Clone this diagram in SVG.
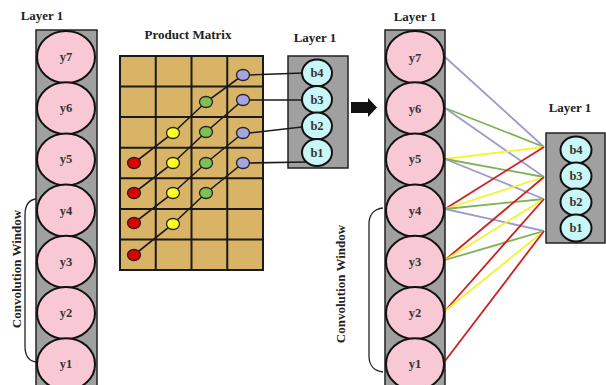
<svg xmlns="http://www.w3.org/2000/svg" width="606" height="385" viewBox="0 0 606 385">
  <style>
    .title { font-family: "Liberation Serif", "Times New Roman", serif; font-weight: bold; font-size: 13px; fill: #222; text-anchor: middle; }
    .lbl { font-family: "Liberation Serif", "Times New Roman", serif; font-weight: bold; font-size: 12.5px; fill: #333; text-anchor: middle; dominant-baseline: central; }
    .col { fill: #a0a0a0; stroke: #222; stroke-width: 1.5; }
    .ynode { fill: #f8c9d5; stroke: #111; stroke-width: 2; }
    .bnode { fill: #c9f7f7; stroke: #111; stroke-width: 2; }
    .cell { fill: #dab466; stroke: #1a1a1a; stroke-width: 2; }
    .gl { stroke: #1a1a1a; stroke-width: 2; fill: none; }
    .diag { stroke: #1a1a1a; stroke-width: 1.6; fill: none; }
    .dot { stroke: #222; stroke-width: 1.3; }
    .red { fill: #e00000; } .yel { fill: #ffff22; } .grn { fill: #7fc052; } .blu { fill: #a5a5e0; }
    .brace { fill: none; stroke: #222; stroke-width: 1.3; }
    .c { fill: none; stroke-width: 1.8; }
    .cb { stroke: #9c9ccc; } .cg { stroke: #7fb255; } .cy { stroke: #f4f430; } .cr { stroke: #cc1f1f; }
  </style>

  <!-- left column -->
  <g id="left-layer">
    <text class="title" x="42" y="20">Layer 1</text>
    <rect class="col" x="36" y="30" width="61" height="360"/>
  </g>
  <g id="left-y7"><ellipse class="ynode" cx="66" cy="57" rx="29" ry="26"/><text class="lbl" x="66" y="57">y7</text></g>
  <g id="left-y6"><ellipse class="ynode" cx="66" cy="108.2" rx="29" ry="26"/><text class="lbl" x="66" y="108.2">y6</text></g>
  <g id="left-y5"><ellipse class="ynode" cx="66" cy="159.4" rx="29" ry="26"/><text class="lbl" x="66" y="159.4">y5</text></g>
  <g id="left-y4"><ellipse class="ynode" cx="66" cy="210.6" rx="29" ry="26"/><text class="lbl" x="66" y="210.6">y4</text></g>
  <g id="left-y3"><ellipse class="ynode" cx="66" cy="261.8" rx="29" ry="26"/><text class="lbl" x="66" y="261.8">y3</text></g>
  <g id="left-y2"><ellipse class="ynode" cx="66" cy="313" rx="29" ry="26"/><text class="lbl" x="66" y="313">y2</text></g>
  <g id="left-y1"><ellipse class="ynode" cx="66" cy="364.2" rx="29" ry="26"/><text class="lbl" x="66" y="364.2">y1</text></g>
  <g id="left-window">
    <path class="brace" d="M36,199 C28,200 25,206 25,215 L25,346 C25,355 28,361 36,362"/>
    <text class="title" font-size="11.5" transform="translate(21,269) rotate(-90)">Convolution Window</text>
  </g>

  <!-- product matrix -->
  <g id="product-matrix">
    <text class="title" x="188" y="39">Product Matrix</text>
    <rect class="cell" x="120" y="56" width="143" height="214"/>
    <path class="gl" d="M155.75,56V270M191.5,56V270M227.25,56V270M120,86.6H263M120,117.1H263M120,147.7H263M120,178.3H263M120,208.9H263M120,239.4H263"/>
    <polyline class="diag" points="134,163 173,133 206,102 243,75"/>
    <polyline class="diag" points="134,193 173,163 206,132 243,100"/>
    <polyline class="diag" points="134,223 173,193 206,163 243,133"/>
    <polyline class="diag" points="134,255 173,224 206,193 243,163"/>
    <g class="dot">
      <ellipse class="red" cx="134" cy="163" rx="6.5" ry="5.5"/>
      <ellipse class="red" cx="134" cy="193" rx="6.5" ry="5.5"/>
      <ellipse class="red" cx="134" cy="223" rx="6.5" ry="5.5"/>
      <ellipse class="red" cx="134" cy="255" rx="6.5" ry="5.5"/>
      <ellipse class="yel" cx="173" cy="133" rx="6.5" ry="5.5"/>
      <ellipse class="yel" cx="173" cy="163" rx="6.5" ry="5.5"/>
      <ellipse class="yel" cx="173" cy="193" rx="6.5" ry="5.5"/>
      <ellipse class="yel" cx="173" cy="224" rx="6.5" ry="5.5"/>
      <ellipse class="grn" cx="206" cy="102" rx="6.5" ry="5.5"/>
      <ellipse class="grn" cx="206" cy="132" rx="6.5" ry="5.5"/>
      <ellipse class="grn" cx="206" cy="163" rx="6.5" ry="5.5"/>
      <ellipse class="grn" cx="206" cy="193" rx="6.5" ry="5.5"/>
      <ellipse class="blu" cx="243" cy="75" rx="6.5" ry="5.5"/>
      <ellipse class="blu" cx="243" cy="100" rx="6.5" ry="5.5"/>
      <ellipse class="blu" cx="243" cy="133" rx="6.5" ry="5.5"/>
      <ellipse class="blu" cx="243" cy="163" rx="6.5" ry="5.5"/>
    </g>
  </g>

  <!-- middle bias layer -->
  <g id="mid-layer">
    <text class="title" x="315" y="42">Layer 1</text>
    <rect class="col" x="288" y="56" width="60" height="112"/>
  </g>

  <!-- connectors -->
  <g id="connectors">
    <g class="diag">
      <line x1="249" y1="75" x2="303" y2="73"/>
      <line x1="249" y1="100" x2="302" y2="100"/>
      <line x1="249" y1="133" x2="302" y2="127"/>
      <line x1="249" y1="163" x2="307" y2="162"/>
    </g>
    <g class="c">
      <line class="cb" x1="445" y1="57" x2="544" y2="147"/>
      <line class="cg" x1="445" y1="108" x2="544" y2="147"/>
      <line class="cb" x1="445" y1="108" x2="544" y2="177"/>
      <line class="cy" x1="445" y1="159" x2="544" y2="147"/>
      <line class="cg" x1="445" y1="159" x2="544" y2="177"/>
      <line class="cb" x1="445" y1="159" x2="544" y2="199"/>
      <line class="cr" x1="445" y1="209" x2="544" y2="147"/>
      <line class="cy" x1="445" y1="209" x2="544" y2="177"/>
      <line class="cg" x1="445" y1="209" x2="544" y2="199"/>
      <line class="cb" x1="445" y1="209" x2="544" y2="231"/>
      <line class="cr" x1="445" y1="260" x2="544" y2="177"/>
      <line class="cy" x1="445" y1="260" x2="544" y2="199"/>
      <line class="cg" x1="445" y1="260" x2="544" y2="231"/>
      <line class="cr" x1="445" y1="311" x2="544" y2="199"/>
      <line class="cy" x1="445" y1="311" x2="544" y2="231"/>
      <line class="cr" x1="445" y1="361" x2="544" y2="231"/>
    </g>
  </g>

  <g id="mid-b4"><ellipse class="bnode" cx="317" cy="73" rx="15" ry="13.5"/><text class="lbl" x="317" y="73">b4</text></g>
  <g id="mid-b3"><ellipse class="bnode" cx="317" cy="99.5" rx="15" ry="13.5"/><text class="lbl" x="317" y="99.5">b3</text></g>
  <g id="mid-b2"><ellipse class="bnode" cx="317" cy="126" rx="15" ry="13.5"/><text class="lbl" x="317" y="126">b2</text></g>
  <g id="mid-b1"><ellipse class="bnode" cx="317" cy="152.5" rx="15" ry="13.5"/><text class="lbl" x="317" y="152.5">b1</text></g>

  <!-- transition arrow -->
  <g id="arrow">
    <polygon fill="#111" points="351,102 368,102 368,98 377,107.5 368,117 368,113 351,113"/>
  </g>

  <!-- right column -->
  <g id="right-layer">
    <text class="title" x="415" y="21">Layer 1</text>
    <rect class="col" x="385" y="30" width="60" height="360"/>
  </g>
  <g id="right-y7"><ellipse class="ynode" cx="415" cy="57" rx="29" ry="26"/><text class="lbl" x="415" y="58">y7</text></g>
  <g id="right-y6"><ellipse class="ynode" cx="415" cy="108.2" rx="29" ry="26"/><text class="lbl" x="415" y="109">y6</text></g>
  <g id="right-y5"><ellipse class="ynode" cx="415" cy="159.4" rx="29" ry="26"/><text class="lbl" x="415" y="159.4">y5</text></g>
  <g id="right-y4"><ellipse class="ynode" cx="415" cy="210.6" rx="29" ry="26"/><text class="lbl" x="415" y="210.6">y4</text></g>
  <g id="right-y3"><ellipse class="ynode" cx="415" cy="261.8" rx="29" ry="26"/><text class="lbl" x="415" y="261.8">y3</text></g>
  <g id="right-y2"><ellipse class="ynode" cx="415" cy="313" rx="29" ry="26"/><text class="lbl" x="415" y="313">y2</text></g>
  <g id="right-y1"><ellipse class="ynode" cx="415" cy="364.2" rx="29" ry="26"/><text class="lbl" x="415" y="364.2">y1</text></g>
  <g id="right-window">
    <path class="brace" d="M383,208 C374,209 369,215 369,224 L369,356 C369,365 374,371 383,372"/>
    <text class="title" font-size="11.5" transform="translate(345,284) rotate(-90)">Convolution Window</text>
  </g>

  <!-- right bias layer -->
  <g id="right-bias">
    <text class="title" x="570" y="112">Layer 1</text>
    <rect class="col" x="546" y="133" width="59" height="110"/>
  </g>
  <g id="right-b4"><ellipse class="bnode" cx="576" cy="150" rx="15.5" ry="13.5"/><text class="lbl" x="576" y="150">b4</text></g>
  <g id="right-b3"><ellipse class="bnode" cx="576" cy="176" rx="15.5" ry="13.5"/><text class="lbl" x="576" y="176">b3</text></g>
  <g id="right-b2"><ellipse class="bnode" cx="576" cy="202" rx="15.5" ry="13.5"/><text class="lbl" x="576" y="202">b2</text></g>
  <g id="right-b1"><ellipse class="bnode" cx="576" cy="228" rx="15.5" ry="13.5"/><text class="lbl" x="576" y="228">b1</text></g>
</svg>
